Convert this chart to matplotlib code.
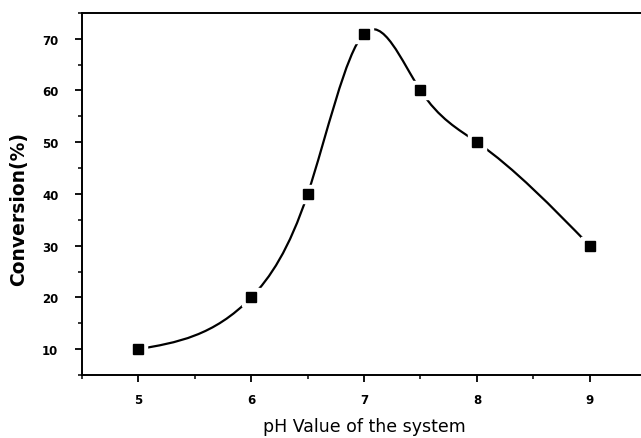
import numpy as np
import matplotlib.pyplot as plt
from matplotlib.path import Path
from matplotlib.patches import PathPatch
from matplotlib.ticker import MultipleLocator

ph = [5, 6, 6.5, 7, 7.5, 8, 9]
conversion = [10, 20, 40, 71, 60, 50, 30]

x_ticks = [5, 6, 7, 8, 9]
x_tick_labels = ['5', '6', '7', '8', '9']
y_ticks = [10, 20, 30, 40, 50, 60, 70]


def spline_path(xs, ys):
    # natural cubic spline, each piece written as a cubic Bezier segment
    x = np.asarray(xs, float)
    y = np.asarray(ys, float)
    n = len(x)
    h = np.diff(x)
    A = np.zeros((n, n))
    b = np.zeros(n)
    A[0, 0] = A[-1, -1] = 1
    for i in range(1, n - 1):
        A[i, i - 1] = h[i - 1]
        A[i, i] = 2 * (h[i - 1] + h[i])
        A[i, i + 1] = h[i]
        b[i] = 6 * ((y[i + 1] - y[i]) / h[i] - (y[i] - y[i - 1]) / h[i - 1])
    M = np.linalg.solve(A, b)
    verts = [(x[0], y[0])]
    codes = [Path.MOVETO]
    for i in range(n - 1):
        s = (y[i + 1] - y[i]) / h[i]
        d0 = s - h[i] * (2 * M[i] + M[i + 1]) / 6
        d1 = s + h[i] * (M[i] + 2 * M[i + 1]) / 6
        verts += [(x[i] + h[i] / 3, y[i] + d0 * h[i] / 3),
                  (x[i + 1] - h[i] / 3, y[i + 1] - d1 * h[i] / 3),
                  (x[i + 1], y[i + 1])]
        codes += [Path.CURVE4] * 3
    return Path(verts, codes)


fig = plt.figure(figsize=(6.41, 4.39), dpi=100)
ax = fig.add_axes([0.128, 0.1435, 0.88, 0.825])

curve = PathPatch(spline_path(ph, conversion), facecolor='none',
                  edgecolor='black', lw=1.6, zorder=2)
ax.add_patch(curve)

# white square under each symbol leaves a gap in the line
ax.plot(ph, conversion, 's', color='white', ms=13, zorder=3)
ax.plot(ph, conversion, 's', color='black', ms=6.5, zorder=4)

ax.set_xlim(4.5, 9.5)
ax.set_ylim(5, 75)
ax.set_xticks(x_ticks)
ax.set_xticklabels(x_tick_labels)
ax.set_yticks(y_ticks)
ax.xaxis.set_minor_locator(MultipleLocator(0.5))
ax.yaxis.set_minor_locator(MultipleLocator(5))

ax.spines['right'].set_visible(False)
for side in ['left', 'bottom', 'top']:
    ax.spines[side].set_linewidth(1.4)

ax.tick_params(which='major', direction='out', length=5, width=1.3,
               labelsize=8.5, pad=12)
ax.tick_params(which='minor', direction='out', length=3, width=1.1)
ax.tick_params(axis='x', pad=8)
for lab in ax.get_xticklabels() + ax.get_yticklabels():
    lab.set_fontweight('bold')

ax.set_ylabel('Conversion(%)', fontsize=13.5, fontweight='bold')
ax.yaxis.set_label_coords(-0.095, 0.46)
ax.set_xlabel('pH Value of the system', fontsize=12.5, labelpad=8)

plt.savefig('out.png', dpi=100)
